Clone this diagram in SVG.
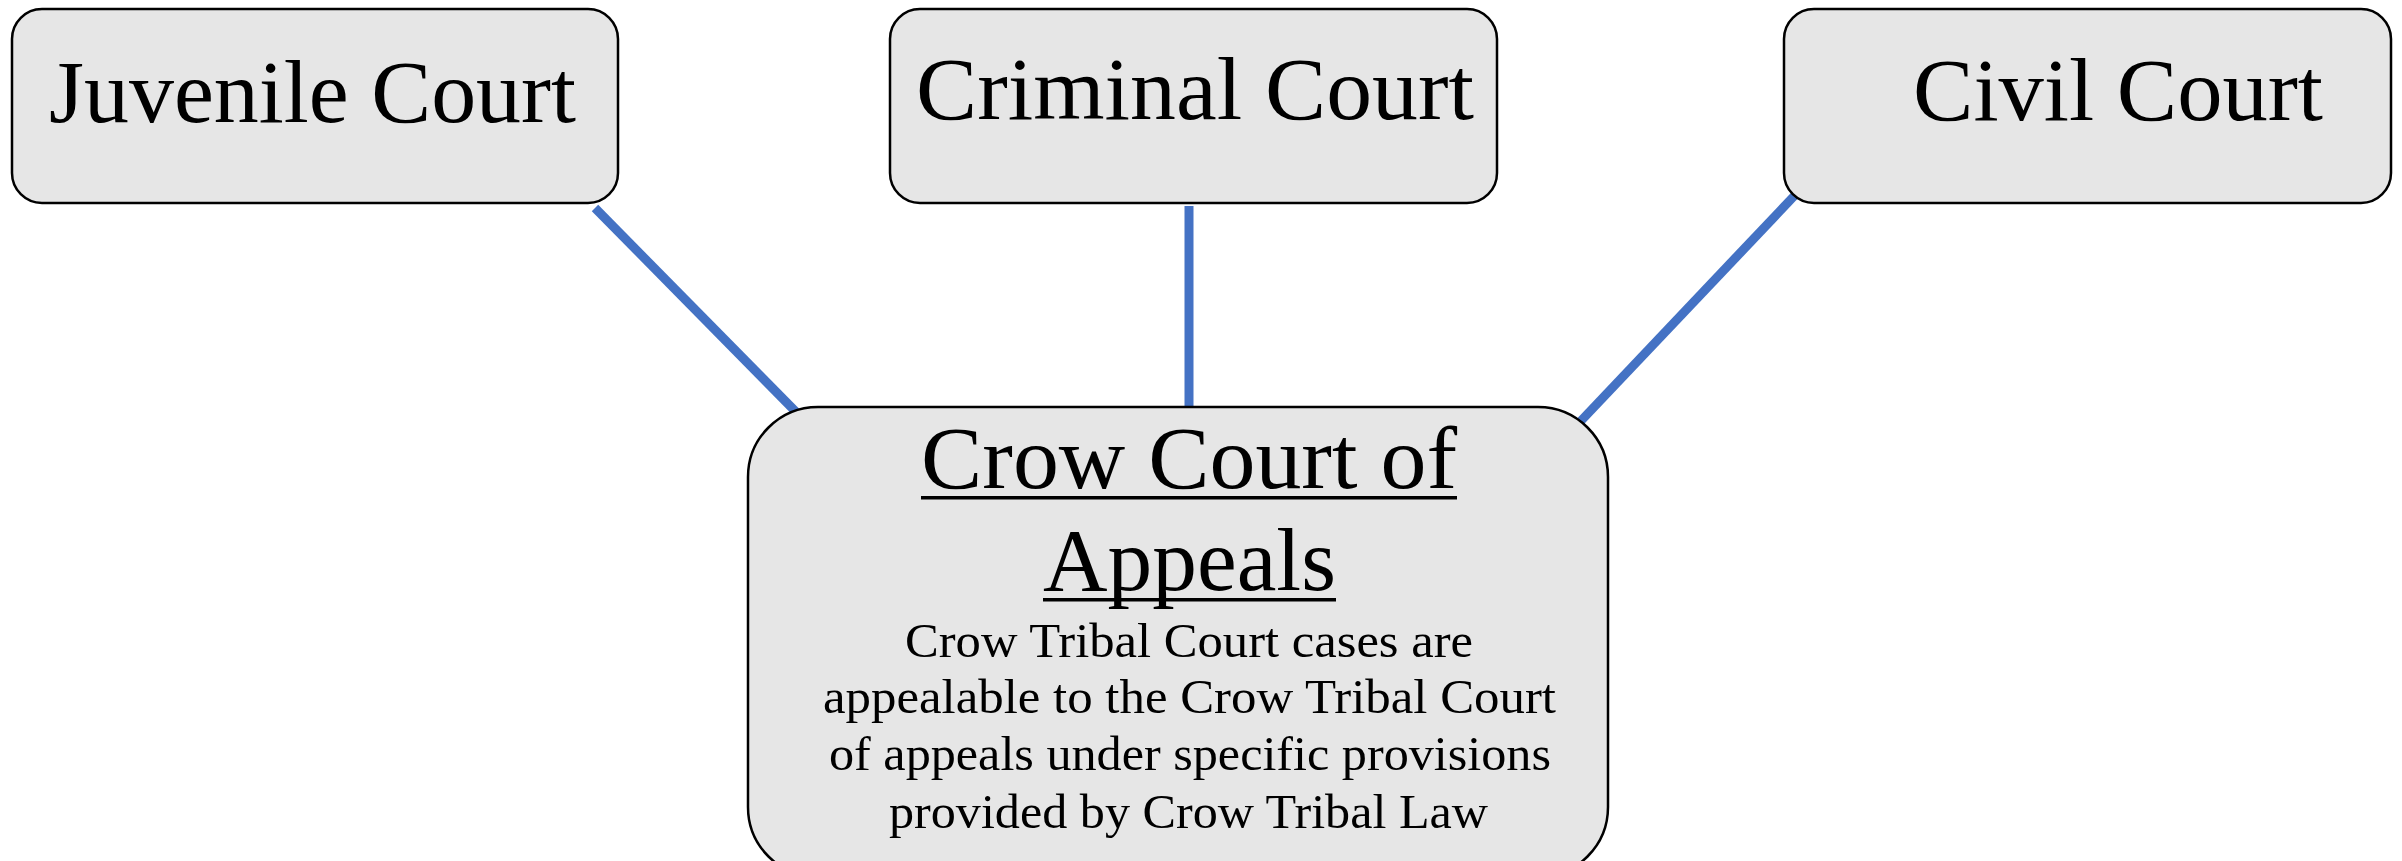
<svg xmlns="http://www.w3.org/2000/svg" width="2402" height="861" viewBox="0 0 2402 861">
<style>
.box{fill:#e6e6e6;stroke:#000;stroke-width:2.5}
.t{font-family:"Liberation Serif","Times New Roman",serif;fill:#000}
.big{font-size:88px}
.body{font-size:48px}
.con{stroke:#4472c4;stroke-width:9;stroke-linecap:butt;fill:none}
</style>
<rect width="2402" height="861" fill="#fff"/>
<g id="connectors">
<line class="con" x1="595" y1="208" x2="798" y2="414"/>
<line class="con" x1="1189" y1="206" x2="1189" y2="409"/>
<line class="con" x1="1797" y1="193" x2="1578" y2="424"/>
</g>
<g id="juvenile">
<rect class="box" x="12" y="9" width="606" height="194" rx="30"/>
<text class="t big" x="49" y="122" textLength="527" lengthAdjust="spacingAndGlyphs">Juvenile Court</text>
</g>
<g id="criminal">
<rect class="box" x="890" y="9" width="607" height="194" rx="30"/>
<text class="t big" x="916" y="119" textLength="558" lengthAdjust="spacingAndGlyphs">Criminal Court</text>
</g>
<g id="civil">
<rect class="box" x="1784" y="9" width="607" height="194" rx="30"/>
<text class="t big" x="1913" y="120" textLength="410" lengthAdjust="spacingAndGlyphs">Civil Court</text>
</g>
<g id="appeals">
<rect class="box" x="748" y="407" width="860" height="470" rx="70"/>
<text class="t big" x="921" y="488" textLength="536" lengthAdjust="spacingAndGlyphs">Crow Court of</text>
<rect x="921" y="496" width="536" height="3.5" fill="#000"/>
<text class="t big" x="1043" y="590" textLength="293" lengthAdjust="spacingAndGlyphs">Appeals</text>
<rect x="1043" y="598" width="293" height="3.5" fill="#000"/>
<text class="t body" x="905" y="657" textLength="568" lengthAdjust="spacingAndGlyphs">Crow Tribal Court cases are</text>
<text class="t body" x="823" y="713" textLength="733" lengthAdjust="spacingAndGlyphs">appealable to the Crow Tribal Court</text>
<text class="t body" x="829" y="770" textLength="722" lengthAdjust="spacingAndGlyphs">of appeals under specific provisions</text>
<text class="t body" x="889" y="828" textLength="599" lengthAdjust="spacingAndGlyphs">provided by Crow Tribal Law</text>
</g>
</svg>
